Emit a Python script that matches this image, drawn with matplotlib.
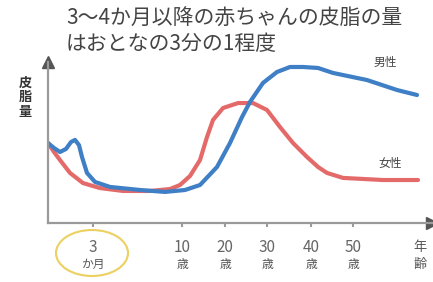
import matplotlib.pyplot as plt
from matplotlib.patches import Ellipse
import numpy as np

plt.rcParams['font.family'] = ['Noto Sans CJK JP', 'DejaVu Sans']

# horizontal position (arbitrary age scale) and sebum amount (0-100)
boy_x = [0, 6, 12, 18, 23, 27, 31, 34, 39, 47, 62, 92, 117, 137, 152, 169,
         182, 194, 202, 215, 229, 242, 255, 270, 285, 319, 349, 369]
boy_y = [49.7, 46.6, 44.1, 46.0, 50.3, 51.6, 48.4, 41.0, 31.1, 25.5, 22.4,
         20.5, 19.3, 20.5, 23.6, 34.8, 49.7, 65.8, 75.2, 87.0, 93.8, 96.9,
         96.9, 96.3, 93.2, 88.8, 82.6, 79.5]

girl_x = [0, 6, 12, 22, 35, 52, 75, 102, 122, 132, 142, 152, 159, 165, 175,
          190, 205, 219, 232, 245, 259, 270, 279, 295, 335, 370]
girl_y = [49.7, 44.1, 39.1, 31.1, 24.8, 21.7, 19.9, 19.9, 21.1, 23.6, 29.2,
          39.1, 53.4, 64.0, 71.4, 74.5, 74.5, 70.2, 59.6, 49.7, 41.0, 34.8,
          31.1, 28.0, 26.7, 26.7]

tick_pos = [45, 134, 177, 219, 263, 305]
tick_num = ['3', '10', '20', '30', '40', '50']
tick_unit = ['か月', '歳', '歳', '歳', '歳', '歳']

title = '3〜4か月以降の赤ちゃんの皮脂の量\nはおとなの3分の1程度'

blue = '#3f7fc6'
red = '#e46a6a'
axis_col = '#9a9a9a'

fig = plt.figure(figsize=(4.33, 2.82), dpi=100)
ax = fig.add_axes([48 / 433, 1 - 223 / 282, 384 / 433, 161 / 282])
ax.set_xlim(0, 384)
ax.set_ylim(0, 100)

ax.plot(girl_x, girl_y, color=red, lw=3, solid_joinstyle='round', solid_capstyle='round')
ax.plot(boy_x, boy_y, color=blue, lw=3, solid_joinstyle='round', solid_capstyle='round')

for s in ['top', 'right']:
    ax.spines[s].set_visible(False)
for s in ['left', 'bottom']:
    ax.spines[s].set_color(axis_col)
    ax.spines[s].set_linewidth(1.6)

# arrow heads
ax.plot(1, 0, '>', color='#555555', ms=8, transform=ax.transAxes, clip_on=False)
ax.plot(0, 1, '^', color='#555555', ms=8, transform=ax.transAxes, clip_on=False)

ax.set_yticks([])
ax.set_xticks(tick_pos)
ax.set_xticklabels([])
ax.tick_params(axis='x', direction='out', length=3, width=1.5, color=axis_col)

tr = ax.get_xaxis_transform()
for p, n, u in zip(tick_pos, tick_num, tick_unit):
    ax.text(p, -0.155, n, transform=tr, ha='center', va='center',
            fontsize=11, color='#666666')
    ax.text(p, -0.26, u, transform=tr, ha='center', va='center',
            fontsize=8.5, color='#555555')
ax.text(372, -0.155, '年', transform=tr, ha='center', va='center', fontsize=9.5, color='#555555')
ax.text(372, -0.26, '齢', transform=tr, ha='center', va='center', fontsize=9.5, color='#555555')

fig.patches.append(Ellipse((92 / 433, 1 - 253 / 282), 72 / 433, 46 / 282,
                           transform=fig.transFigure, fill=False,
                           edgecolor='#ecd060', lw=1.5))

fig.text(66 / 433, 1 - 31 / 282, title, ha='left', va='center', fontsize=15,
         color='#444444', linespacing=1.25)
fig.text(25 / 433, 1 - 97 / 282, '皮\n脂\n量', ha='center', va='center',
         fontsize=9.5, color='#333333', linespacing=1.05, fontweight='bold')
fig.text(385 / 433, 1 - 62 / 282, '男性', ha='center', va='center', fontsize=8.5, color='#444444')
fig.text(390 / 433, 1 - 163 / 282, '女性', ha='center', va='center', fontsize=8.5, color='#444444')

fig.savefig('out.png', dpi=100)
